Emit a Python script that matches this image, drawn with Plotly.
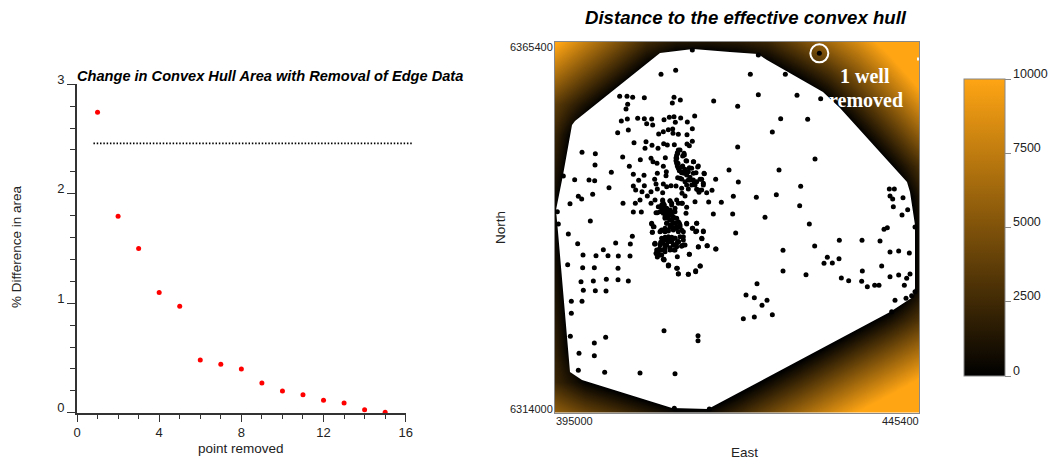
import plotly.graph_objects as go
import numpy as np

W, H = 1048, 459

# ---- left chart data
point_removed = list(range(1, 16))
pct_difference = [2.744, 1.794, 1.50, 1.097, 0.972, 0.481, 0.442, 0.399, 0.271, 0.198, 0.164, 0.113, 0.088, 0.027, 0.003]
threshold_x = [0.8, 16.3]
threshold_y = [2.461, 2.461]

# ---- map extents
EAST_MIN, EAST_MAX = 395000, 445400
NORTH_MIN, NORTH_MAX = 6314000, 6365400
# digitising unit (metres per unit)
UE = (EAST_MAX - EAST_MIN) / 364.0
UN = (NORTH_MAX - NORTH_MIN) / 370.5

# digitised tiles: (east unit, depth-from-top unit) in thirds of a unit
tile_nw = [(333,118),(377,106),(209,184),(231,184),(248,187),(283,188),(372,187),(391,195),(367,204),(491,198),(563,214),(233,208),(228,222),(263,250),(283,251),(305,252),(232,252),(214,258),(342,254),(358,247),(372,245),(392,249),(412,261),(434,243),(376,262),(290,266),(308,270),(427,281),(235,285),(203,293),(326,297),(340,290),(355,284),(368,282),(369,295),(385,298),(411,299),(252,323),(288,320),(285,340),(306,331),(324,340),(341,326),(352,330),(373,329),(411,327),(427,319),(418,332),(563,336),(96,352),(136,356),(218,366),(346,368),(403,360),(271,374),(303,370),(135,390),(238,394),(309,380),(321,385),(340,394),(390,345),(383,355),(380,370),(410,378),(431,380),(384,385),(395,395),(418,398),(443,396),(184,412),(537,405),(40,423),(349,410),(348,422),(250,418),(282,421),(322,415),(395,410),(410,410),(430,415),(463,416),(74,434),(117,435),(134,437),(266,436),(314,433),(497,433),(565,441),(383,428),(395,432),(420,435),(440,440),(455,433),(250,453),(283,452),(318,447),(340,447),(350,455),(363,452),(378,453),(395,460),(410,450),(433,445),(460,450),(177,458),(257,465),(276,470),(303,470),(322,462),(338,473),(396,475),(415,462),(440,463),(447,472),(470,473),(486,466),(128,478),(85,484),(95,492),(550,484),(292,483),(405,483),(270,495),(315,495),(303,505),(338,495),(360,497),(380,495),(256,505),(219,505),(60,506),(435,500),(476,501),(514,502),(397,505),(410,517),(22,530),(250,531),(274,531),(343,510),(335,520),(340,530),(350,520),(318,533),(375,520),(365,530),(408,535),(490,537),(548,537),(121,558),(25,567),(305,567),(345,545),(355,550),(365,555),(380,550),(410,565),(440,565),(427,45)]
tile_ne = [(268,55),(61,118),(166,118),(85,179),(201,181),(272,191),(152,251),(233,253),(127,291),(255,372),(147,405),(212,454),(79,487),(139,479),(105,547),(209,512),(238,567),(478,462),(493,462),(480,483),(488,492),(519,488),(490,515),(533,524),(516,540),(85,60)]
tile_sw = [(55,27),(83,56),(247,34),(197,54),(241,57),(160,74),(99,90),(138,92),(174,92),(205,93),(240,93),(53,119),(98,128),(133,128),(204,130),(93,170),(130,168),(169,163),(204,164),(235,168),(100,196),(136,197),(168,198),(64,229),(96,229),(64,265),(61,334),(167,337),(133,354),(342,317),(444,332),(444,347),(87,385),(133,392),(85,436),(164,442),(270,444),(375,446),(310,5),(307,22),(332,18),(345,10),(360,5),(375,10),(390,5),(400,20),(400,35),(428,10),(440,18),(460,18),(456,41),(314,57),(332,52),(350,45),(365,45),(375,40),(385,50),(400,60),(445,66),(471,62),(497,72),(328,72),(345,70),(360,68),(375,75),(318,85),(330,90),(322,96),(382,95),(418,88),(342,103),(356,121),(382,130),(385,146),(415,148),(437,140),(451,123),(373,550),(478,552)]
tile_se = [(17,24),(328,46),(396,46),(450,48),(462,13),(472,8),(555,6),(159,76),(254,63),(480,81),(506,78),(538,84),(292,97),(282,115),(307,114),(327,101),(455,123),(397,138),(159,138),(228,149),(480,155),(506,150),(540,147),(530,160),(334,159),(356,167),(395,169),(412,185),(434,181),(447,181),(523,181),(81,176),(48,210),(73,218),(111,226),(96,241),(127,269),(40,281),(73,276),(495,226),(528,220),(545,212),(555,200),(485,260)]
tile_blob = [(95,75),(100,85),(90,95),(105,100),(110,110),(100,70),(115,95),(125,105),(120,120),(135,115),(130,130),(145,125),(110,130),(125,140),(140,140),(150,135),(155,150),(115,150),(95,150),(105,155),(130,150),(145,70),(155,70),(125,70),(85,80),(82,98),(115,175),(130,175),(100,180),(95,190),(110,195),(125,185),(140,190),(150,170),(160,180),(75,190),(80,210),(85,225),(100,238),(105,215),(130,195),(155,198),(145,185),(115,258),(140,265),(145,282),(175,283),(197,272),(210,258),(178,223),(215,175),(232,197),(205,200),(258,207),(170,132),(200,130),(187,145),(197,155),(220,155),(65,130),(72,140),(67,157)]
tile_chain = [(55,30),(52,38),(50,46),(48,54),(48,62),(50,70),(52,78),(55,85),(58,92),(65,98),(72,100),(80,105),(85,95),(75,88),(68,78),(90,112),(100,120),(85,120),(75,125),(60,115),(72,40),(68,48),(78,62),(100,65),(115,78),(95,85),(108,98),(132,100),(120,118),(105,135),(130,130),(115,150),(125,150),(95,135)]
tile_core_a = [(38,18),(35,35),(45,40),(40,55),(50,50),(60,45),(55,60),(45,70),(60,75),(70,65),(50,85),(62,90),(75,85),(68,100),(80,100),(85,110),(45,105),(55,108),(30,110),(75,50),(65,30),(88,85),(60,18)]
tile_core_b = [(35,25),(45,22),(55,20),(65,22),(75,25),(85,35),(80,50),(70,45),(55,35),(40,40),(30,45),(45,50),(35,60),(25,65),(20,72),(35,75),(15,42),(60,60),(72,60),(95,48),(105,45),(42,90),(55,105)]

TILES = [(tile_nw, -5.0, 377.5), (tile_ne, 175.0, 377.5), (tile_sw, -5.0, 187.5), (tile_se, 175.0, 187.5),
         (tile_blob, 75.0, 232.5), (tile_chain, 105.0, 272.5), (tile_core_a, 95.0, 217.5), (tile_core_b, 95.0, 182.5)]
well_east, well_north = [], []
for pts, u0, v0 in TILES:
    for a, b in pts:
        well_east.append(EAST_MIN + (u0 + a / 3) * UE)
        well_north.append(NORTH_MIN + (v0 - b / 3) * UN)

# the removed well
removed_east = [EAST_MIN + (175.0 + 268 / 3) * UE]
removed_north = [NORTH_MIN + (377.5 - 55 / 3) * UN]

# small white stub on the right map edge
stub_east = [EAST_MIN + 363.5 * UE]
stub_north = [NORTH_MIN + 353.5 * UN]

# effective hull outline, digitised clockwise
hull_u = [1, 8, 17, 20, 105, 138, 175, 203, 212, 268, 285, 352, 355, 360, 360, 358, 335, 175, 153, 117, 27, 15, 3]
hull_v = [202.5, 237.5, 287.5, 291.5, 359.5, 363.5, 360.5, 358.5, 352.5, 320.5, 304.5, 230.5, 220.5, 187.5, 124.5, 115.5, 100.5, 14.5, 3.5, 4.5, 32.5, 40.5, 180.5]
hull_east = [EAST_MIN + u * UE for u in hull_u]
hull_north = [NORTH_MIN + v * UN for v in hull_v]

# distance field grid (top row first), read in map units; negative = inside hull
grid_east = list(np.linspace(EAST_MIN, EAST_MAX, 13))
grid_north = list(np.linspace(NORTH_MAX, NORTH_MIN, 13))
dist_units = [
 [74.2, 55.3, 36.3, 17.4, 9, 8, 10.5, 15.8, 30.8, 45.9, 60.9, 80.4, 102.8],
 [50.1, 31.2, 12.2, -6.7, -21.9, -22.8, -20.4, -10.5, 4, 19.1, 38.1, 59.7, 82.1],
 [25.9, 7, -12, -30.9, -49.8, -53.7, -51.3, -37.9, -22.8, -5.2, 16.4, 38.9, 61.3],
 [15.1, -14.7, -36, -54.9, -73.8, -84, -82, -64.6, -49.6, -26.7, -4.2, 18.3, 40.7],
 [9.6, -20.2, -50, -80, -100, -100, -100, -95, -76.4, -47.5, -25, -2.5, 19.9],
 [3.6, -26, -56, -87, -110, -130, -120, -100, -100, -68.2, -45.7, -23.2, 8.2],
 [2.6, -27.6, -58, -88, -118, -130, -130, -130, -117, -90, -57, -26.3, 4],
 [5.2, -24.9, -55.2, -85.4, -115, -130, -130, -130, -117, -87, -57, -26, 4],
 [7.9, -22.2, -52.5, -83, -110, -107, -92.8, -78.5, -64, -49.7, -35.3, -20.9, 4],
 [10.5, -19.6, -49.9, -76.4, -85.4, -79.9, -65.5, -51.2, -36.8, -22.4, -8, 6.4, 22.5],
 [13.1, -17, -37.9, -46.9, -55.9, -52.7, -38.3, -24, -9.6, 4.8, 19.2, 33.6, 48.4],
 [16.3, 0.5, -8.5, -17.5, -26.5, -25.1, -11.2, 3.1, 17.5, 31.9, 46.3, 60.7, 75],
 [42, 30, 21, 12, 3.5, 3.5, 16.1, 30.3, 44.7, 59.1, 73.5, 87.9, 102.2],
]
dist_m = [[d * 138.6 for d in row] for row in dist_units]

cbar_ticks = [0, 2500, 5000, 7500, 10000]
orange_scale = [[0, "#000000"], [1, "#FFA514"]]

SANS = "Liberation Sans"
SERIF = "Liberation Serif"
INK = "#222222"

fig = go.Figure()

# left chart
fig.add_trace(go.Scatter(x=threshold_x, y=threshold_y, mode="lines", cliponaxis=False, hoverinfo="skip",
                         line=dict(color="black", width=1.7, dash="1.5px,1.8px"), xaxis="x3", yaxis="y"))
fig.add_trace(go.Scatter(x=point_removed, y=pct_difference, mode="markers", cliponaxis=False,
                         marker=dict(color="#FF0000", size=5), xaxis="x", yaxis="y"))

# right map
fig.add_trace(go.Heatmap(x=grid_east, y=grid_north, z=dist_m, zmin=0, zmax=10000, zsmooth="best",
                         colorscale=orange_scale, xaxis="x2", yaxis="y2",
                         colorbar=dict(x=963.5 / W, xanchor="left", xpad=0, ypad=0,
                                       y=(H - 376) / H, yanchor="bottom",
                                       thickness=41, thicknessmode="pixels", lenmode="pixels", len=297,
                                       tickmode="array", tickvals=cbar_ticks, showticklabels=False,
                                       ticks="outside", ticklen=6, tickcolor="#888888", tickwidth=1,
                                       outlinecolor="#888888", outlinewidth=1)))
fig.add_trace(go.Scatter(x=hull_east, y=hull_north, mode="lines", fill="toself", fillcolor="white",
                         line=dict(color="white", width=0), hoverinfo="skip", xaxis="x2", yaxis="y2"))
fig.add_trace(go.Scatter(x=well_east, y=well_north, mode="markers",
                         marker=dict(color="black", size=5), xaxis="x2", yaxis="y2"))
fig.add_trace(go.Scatter(x=removed_east, y=removed_north, mode="markers", hoverinfo="skip",
                         marker=dict(symbol="circle-open", size=18, color="white", line=dict(color="white", width=2)),
                         xaxis="x2", yaxis="y2"))
fig.add_trace(go.Scatter(x=stub_east, y=stub_north, mode="markers", hoverinfo="skip", cliponaxis=False,
                         marker=dict(symbol="square", size=3, color="white"), xaxis="x2", yaxis="y2"))


def ann(text, px, py, size, family=SANS, color=INK, bold_italic=False, angle=0, xa="center", ya="middle", bold=False):
    if bold_italic:
        text = "<b><i>" + text + "</i></b>"
    if bold:
        text = "<b>" + text + "</b>"
    return dict(text=text, x=px / W, y=(H - py) / H, xref="paper", yref="paper", showarrow=False,
                xanchor=xa, yanchor=ya, textangle=angle, font=dict(family=family, size=size, color=color))


annotations = [
    ann("Change in Convex Hull Area with Removal of Edge Data", 270, 76, 14.6, bold_italic=True, color="black"),
    ann("Distance to the effective convex hull", 745.5, 18, 18.6, bold_italic=True, color="black"),
    ann("point removed", 241, 448, 13.5),
    ann("% Difference in area", 16, 247, 13.5, angle=-90),
    ann("North", 500, 228, 13.5, angle=-90),
    ann("East", 744, 452, 13.5),
    ann("6365400", 554.5, 47, 11, xa="right"),
    ann("6314000", 554.5, 409, 11, xa="right"),
    ann("395000", 554, 421, 11, xa="left"),
    ann("445400", 920.5, 421, 11, xa="right"),
    ann("1 well", 865, 76, 20, family=SERIF, color="white", bold=True),
    ann("removed", 866, 100, 20, family=SERIF, color="white", bold=True),
]
for val, py in zip(cbar_ticks, [371, 296, 222, 148, 74]):
    annotations.append(ann(str(val), 1011, py, 12.5, xa="left"))

fig.update_layout(
    width=W, height=H, margin=dict(l=0, r=0, t=0, b=0, autoexpand=False), showlegend=False,
    paper_bgcolor="white", plot_bgcolor="rgba(0,0,0,0)", annotations=annotations,
    xaxis=dict(domain=[77 / W, 405.7 / W], range=[0, 16], tickvals=[0, 4, 8, 12, 16], ticks="outside", ticklen=7,
               showgrid=False, zeroline=False, showline=True, linecolor="#333333", linewidth=2, tickcolor="#333333",
               minor=dict(dtick=1, tick0=0, ticks="outside", ticklen=4, tickcolor="#333333", showgrid=False),
               tickfont=dict(family=SANS, size=13, color=INK), anchor="y"),
    xaxis3=dict(domain=[77 / W, 412 / W], range=[0, 16.31], visible=False, anchor="y"),
    yaxis=dict(domain=[(H - 412.7) / H, (H - 84.3) / H], range=[0, 3], tickvals=[0, 1, 2, 3], ticks="outside", ticklen=8,
               showgrid=False, zeroline=False, showline=True, linecolor="#333333", linewidth=2, tickcolor="#333333",
               minor=dict(dtick=0.2, tick0=0, ticks="outside", ticklen=5, tickcolor="#333333", showgrid=False),
               ticklabelshift=-5,
               tickfont=dict(family=SANS, size=13, color=INK), anchor="x"),
    xaxis2=dict(domain=[555 / W, 919 / W], range=[EAST_MIN, EAST_MAX], showticklabels=False, ticks="",
                showgrid=False, zeroline=False, showline=True, linecolor="#888888", linewidth=1, mirror=True, anchor="y2"),
    yaxis2=dict(domain=[(H - 412.5) / H, (H - 42) / H], range=[NORTH_MIN, NORTH_MAX], showticklabels=False, ticks="",
                showgrid=False, zeroline=False, showline=True, linecolor="#888888", linewidth=1, mirror=True, anchor="x2"),
)

fig.write_html("out.html", config={"displayModeBar": False},
               post_script="document.body.style.margin='0';document.body.style.overflow='hidden';")
